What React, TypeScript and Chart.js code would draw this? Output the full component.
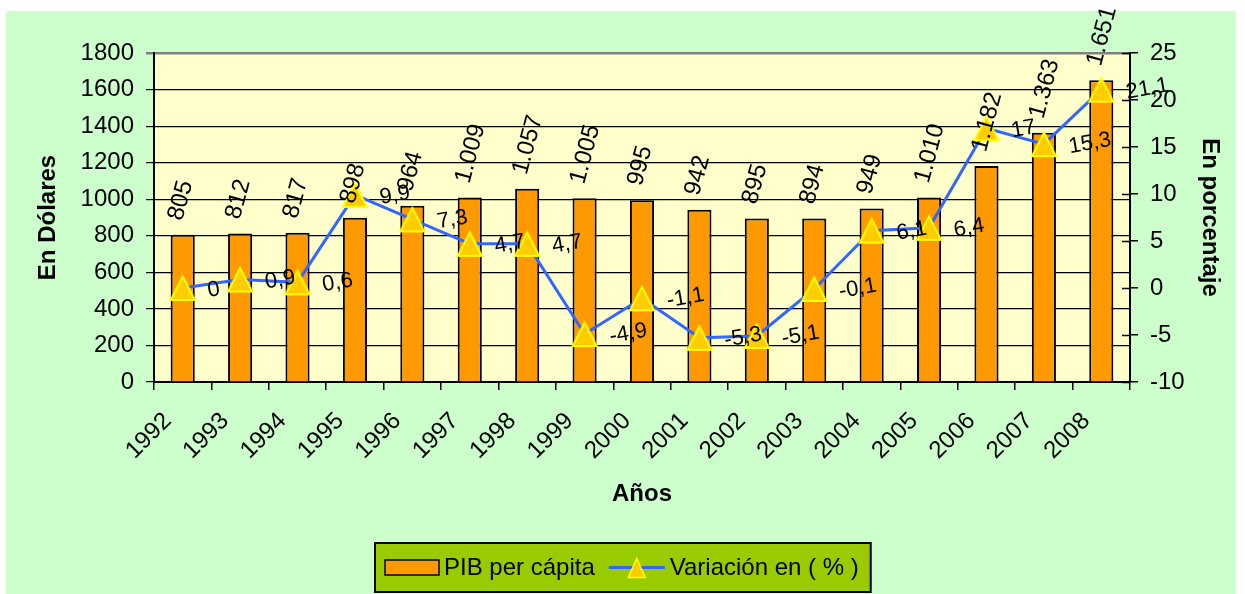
import React, { useEffect, useRef } from 'react';
import { Chart, registerables } from 'chart.js';

Chart.register(...registerables);

// ---------- data ----------
const categories = ['1992', '1993', '1994', '1995', '1996', '1997', '1998', '1999', '2000', '2001', '2002', '2003', '2004', '2005', '2006', '2007', '2008'];
const pibPerCapita = [805, 812, 817, 898, 964, 1009, 1057, 1005, 995, 942, 895, 894, 949, 1010, 1182, 1363, 1651];
const variacion = [0, 0.9, 0.6, 9.9, 7.3, 4.7, 4.7, -4.9, -1.1, -5.3, -5.1, -0.1, 6.1, 6.4, 17, 15.3, 21.1];
const seriesNames = ['PIB per cápita', 'Variación en ( % )'];
const leftAxisRange = [0, 1800, 200];
const rightAxisRange = [-10, 25, 5];
const xTitle = 'Años';
const yTitle = 'En Dólares';
const y1Title = 'En porcentaje';

// ---------- styles ----------
const FONT = '"Liberation Sans", Arial, Helvetica, sans-serif';
const BAR_COLOR = '#FF9900';
const LINE_COLOR = '#3366FF';
const MARKER_FILL = '#FFCC00';
const MARKER_EDGE = '#FFFF00';
const PANEL_BG = '#CCFFCC';
const PLOT_BG = '#FFFFCC';
const LEGEND_BG = '#99CC00';

const fmtPib = (n: number) =>
  n >= 1000 ? `${Math.floor(n / 1000)}.${String(n % 1000).padStart(3, '0')}` : String(n);
const fmtVar = (v: number) => String(v).replace('.', ',');

function makeTriangle(): HTMLCanvasElement {
  const c = document.createElement('canvas');
  c.width = 28;
  c.height = 28;
  const g = c.getContext('2d')!;
  g.beginPath();
  g.moveTo(14, 2.5);
  g.lineTo(2, 26);
  g.lineTo(26, 26);
  g.closePath();
  g.fillStyle = MARKER_FILL;
  g.fill();
  g.lineWidth = 2;
  g.strokeStyle = MARKER_EDGE;
  g.lineJoin = 'miter';
  g.stroke();
  return c;
}

const backgroundPlugin = {
  id: 'bgPanel',
  beforeDraw(chart: any) {
    const { ctx, width, height, chartArea } = chart;
    ctx.save();
    ctx.fillStyle = '#FFFFFF';
    ctx.fillRect(0, 0, width, height);
    ctx.fillStyle = PANEL_BG;
    ctx.fillRect(6, 11, width - 15, height - 11);
    ctx.fillStyle = PLOT_BG;
    ctx.fillRect(chartArea.left, chartArea.top, chartArea.right - chartArea.left, chartArea.bottom - chartArea.top);
    ctx.restore();
  },
};

const labelsPlugin = {
  id: 'valueLabels',
  afterDatasetsDraw(chart: any) {
    const { ctx } = chart;
    ctx.save();
    ctx.fillStyle = '#000';
    ctx.textAlign = 'left';
    ctx.textBaseline = 'middle';
    // bar labels
    ctx.font = `24px ${FONT}`;
    chart.getDatasetMeta(0).data.forEach((el: any, i: number) => {
      const { x, y } = el.getProps(['x', 'y'], true);
      ctx.save();
      ctx.translate(x - 7, y - 15);
      ctx.rotate((-75 * Math.PI) / 180);
      ctx.fillText(fmtPib(pibPerCapita[i]), 0, 0);
      ctx.restore();
    });
    // line labels
    ctx.font = `22px ${FONT}`;
    chart.getDatasetMeta(1).data.forEach((el: any, i: number) => {
      const { x, y } = el.getProps(['x', 'y'], true);
      ctx.save();
      ctx.translate(x + 25, y + 3);
      ctx.rotate((-10 * Math.PI) / 180);
      ctx.fillText(fmtVar(variacion[i]), 0, 0);
      ctx.restore();
    });
    ctx.restore();
  },
};

const extrasPlugin = {
  id: 'extras',
  afterDraw(chart: any) {
    const { ctx, chartArea, width } = chart;
    ctx.save();
    // inner half of right axis tick marks
    const s = chart.scales.y1;
    ctx.strokeStyle = '#000';
    ctx.lineWidth = 1.5;
    s.ticks.forEach((t: any) => {
      const py = Math.round(s.getPixelForValue(t.value)) + 0.5;
      ctx.beginPath();
      ctx.moveTo(chartArea.right - 8, py);
      ctx.lineTo(chartArea.right, py);
      ctx.stroke();
    });

    // legend
    ctx.font = `24px ${FONT}`;
    const w0 = ctx.measureText(seriesNames[0]).width;
    const w1 = ctx.measureText(seriesNames[1]).width;
    const boxW = 10 + 54 + 5 + w0 + 14 + 56 + 5 + w1 + 12;
    const bx = Math.round(width / 2 - boxW / 2);
    const by = 543;
    const bh = 49;
    ctx.fillStyle = LEGEND_BG;
    ctx.fillRect(bx, by, boxW, bh);
    ctx.lineWidth = 2;
    ctx.strokeStyle = '#000';
    ctx.strokeRect(bx, by, boxW, bh);
    const cy = by + bh / 2;
    let cx = bx + 10;
    ctx.fillStyle = BAR_COLOR;
    ctx.fillRect(cx, cy - 7.5, 54, 15);
    ctx.lineWidth = 1.5;
    ctx.strokeRect(cx, cy - 7.5, 54, 15);
    cx += 54 + 5;
    ctx.fillStyle = '#000';
    ctx.textAlign = 'left';
    ctx.textBaseline = 'middle';
    ctx.fillText(seriesNames[0], cx, cy + 1);
    cx += w0 + 14;
    ctx.strokeStyle = LINE_COLOR;
    ctx.lineWidth = 3;
    ctx.beginPath();
    ctx.moveTo(cx, cy);
    ctx.lineTo(cx + 56, cy);
    ctx.stroke();
    const tx = cx + 28;
    ctx.beginPath();
    ctx.moveTo(tx, cy - 9);
    ctx.lineTo(tx - 8.5, cy + 10);
    ctx.lineTo(tx + 8.5, cy + 10);
    ctx.closePath();
    ctx.fillStyle = MARKER_FILL;
    ctx.fill();
    ctx.strokeStyle = MARKER_EDGE;
    ctx.lineWidth = 1.5;
    ctx.stroke();
    cx += 56 + 5;
    ctx.fillStyle = '#000';
    ctx.fillText(seriesNames[1], cx, cy + 1);
    ctx.restore();
  },
};

export default function App() {
  const ref = useRef<HTMLCanvasElement>(null);

  useEffect(() => {
    const canvas = ref.current;
    if (!canvas) return;
    const tri = makeTriangle();
    const chart = new Chart(canvas, {
      type: 'bar',
      data: {
        labels: categories,
        datasets: [
          {
            type: 'bar',
            label: seriesNames[0],
            data: pibPerCapita,
            yAxisID: 'y',
            backgroundColor: BAR_COLOR,
            borderColor: '#000',
            borderWidth: 2,
            barPercentage: 0.42,
            categoryPercentage: 1,
            order: 2,
          } as any,
          {
            type: 'line',
            label: seriesNames[1],
            data: variacion,
            yAxisID: 'y1',
            borderColor: LINE_COLOR,
            borderWidth: 3,
            tension: 0,
            pointStyle: tri,
            pointRadius: 13,
            order: 1,
          } as any,
        ],
      },
      options: {
        responsive: false,
        animation: false,
        devicePixelRatio: 1,
        layout: { padding: { top: 53, bottom: 72, left: 0, right: 0 } },
        plugins: {
          legend: { display: false },
          tooltip: { enabled: false },
        },
        scales: {
          x: {
            offset: true,
            grid: { offset: true, drawOnChartArea: false, color: '#000', lineWidth: 1.5, tickLength: 8 },
            border: { color: '#000', width: 2 },
            ticks: {
              color: '#000',
              font: { family: FONT, size: 24 },
              minRotation: 45,
              maxRotation: 45,
              autoSkip: false,
              padding: 17,
              labelOffset: -15,
            },
            title: {
              display: true,
              text: xTitle,
              color: '#000',
              font: { family: FONT, size: 24, weight: 'bold' },
              padding: { top: 0, bottom: 13 },
            },
            afterFit: (s: any) => {
              s.height = 140;
            },
          },
          y: {
            position: 'left',
            min: leftAxisRange[0],
            max: leftAxisRange[1],
            grid: {
              color: (c: any) => (c.tick && c.tick.value === leftAxisRange[1] ? '#808080' : '#000'),
              lineWidth: (c: any) => (c.tick && c.tick.value === leftAxisRange[1] ? 2.5 : 1.2),
              tickLength: 8,
            },
            border: { color: '#000', width: 2 },
            ticks: {
              stepSize: leftAxisRange[2],
              color: '#000',
              font: { family: FONT, size: 24 },
              padding: 12,
              callback: (v: any) => String(v),
            },
            title: {
              display: true,
              text: yTitle,
              color: '#000',
              font: { family: FONT, size: 24, weight: 'bold' },
              padding: { top: 34, bottom: 0 },
            },
            afterFit: (s: any) => {
              s.width = 154;
            },
          },
          y1: {
            position: 'right',
            min: rightAxisRange[0],
            max: rightAxisRange[1],
            grid: { drawOnChartArea: false, color: '#000', lineWidth: 1.5, tickLength: 8 },
            border: { color: '#000', width: 2 },
            ticks: {
              stepSize: rightAxisRange[2],
              color: '#000',
              font: { family: FONT, size: 24 },
              padding: 12,
              callback: (v: any) => String(v),
            },
            title: {
              display: true,
              text: y1Title,
              color: '#000',
              font: { family: FONT, size: 24, weight: 'bold' },
              padding: { top: 21, bottom: 0 },
            },
            afterFit: (s: any) => {
              s.width = 115;
            },
          },
        },
      } as any,
      plugins: [backgroundPlugin, labelsPlugin, extrasPlugin],
    });
    return () => chart.destroy();
  }, []);

  return (
    <div style={{ position: 'absolute', left: 0, top: 0, width: 1245, height: 594 }}>
      <canvas ref={ref} width={1245} height={594} style={{ display: 'block', width: 1245, height: 594 }} />
    </div>
  );
}
